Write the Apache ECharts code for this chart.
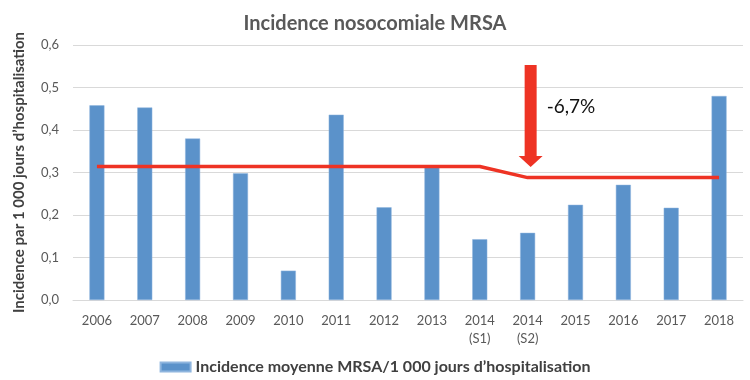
<!DOCTYPE html>
<html><head><meta charset="utf-8">
<script src="https://cdn.jsdelivr.net/npm/echarts@6/dist/echarts.min.js"></script>
<style>html,body{margin:0;padding:0;background:#fff}#c{width:750px;height:380px}</style>
</head><body><div id="c"></div>
<script>
const categories = ['2006','2007','2008','2009','2010','2011','2012','2013','2014\n(S1)','2014\n(S2)','2015','2016','2017','2018'];
const incidence = [0.458,0.453,0.380,0.298,0.069,0.436,0.218,0.312,0.143,0.158,0.224,0.271,0.217,0.480];
const trend = [0.314,0.314,0.314,0.314,0.314,0.314,0.314,0.314,0.314,0.288,0.288,0.288,0.288,0.288];
const yTicks = [0,0.1,0.2,0.3,0.4,0.5,0.6];
const arrowCategory = '2014\n(S2)';
const arrowTop = 0.553, arrowHeadStart = 0.339, arrowTip = 0.313;
const annotation = '-6,7%';

const font = 'Lato, "Open Sans", sans-serif';
const chart = echarts.init(document.getElementById('c'));
chart.setOption({
  animation: false,
  textStyle: {fontFamily: font},
  title: {text: 'Incidence nosocomiale MRSA', left: 'center', top: 9,
    textStyle: {fontFamily: font, fontSize: 20, fontWeight: 'bold', color: '#595959'}},
  grid: {left: 73, right: 7, top: 45, bottom: 80},
  legend: {data: ['Incidence moyenne MRSA/1 000 jours d’hospitalisation'], top: 354, left: 'center',
    itemWidth: 30, itemHeight: 9, itemGap: 4, icon: 'rect',
    textStyle: {fontFamily: font, fontSize: 16, fontWeight: 'bold', color: '#404040'}},
  xAxis: {type: 'category', data: categories,
    axisLine: {lineStyle: {color: '#d9d9d9'}}, axisTick: {show: false},
    axisLabel: {color: '#595959', fontSize: 13, margin: 12, lineHeight: 18, interval: 0}},
  yAxis: {type: 'value', min: 0, max: 0.6, interval: 0.1,
    name: 'Incidence par 1 000 jours d’hospitalisation', nameLocation: 'middle', nameGap: 46, nameRotate: 90,
    nameTextStyle: {fontFamily: font, fontSize: 15, fontWeight: 'bold', color: '#404040'},
    axisLabel: {color: '#595959', fontSize: 13, margin: 14,
      formatter: v => v.toFixed(1).replace('.', ',')},
    splitLine: {lineStyle: {color: '#d9d9d9'}}},
  series: [
    {name: 'Incidence moyenne MRSA/1 000 jours d’hospitalisation', type: 'bar', data: incidence,
      barWidth: 15, itemStyle: {color: '#5B92CA', borderColor: '#8fb5de', borderWidth: 0.5}},
    {name: 'trend', type: 'line', data: trend, symbol: 'none',
      lineStyle: {color: '#EE3324', width: 3.5}, z: 5}
  ]
});

function drawArrow() {
  const top = chart.convertToPixel({gridIndex: 0}, [arrowCategory, arrowTop]);
  const hs = chart.convertToPixel({gridIndex: 0}, [arrowCategory, arrowHeadStart]);
  const tip = chart.convertToPixel({gridIndex: 0}, [arrowCategory, arrowTip]);
  const x = top[0] + 3, sw = 6, hw = 12;
  chart.setOption({graphic: [
    {type: 'polygon', z: 10, shape: {points: [
      [x - sw, top[1]], [x + sw, top[1]], [x + sw, hs[1]], [x + hw, hs[1]],
      [x, tip[1]], [x - hw, hs[1]], [x - sw, hs[1]]]}, style: {fill: '#EE3324'}},
    {type: 'text', z: 10, x: x + 16, y: top[1] + 42, style: {text: annotation,
      fontFamily: font, fontSize: 19, fill: '#111', textVerticalAlign: 'middle'}}
  ]});
}
drawArrow();
</script></body></html>
